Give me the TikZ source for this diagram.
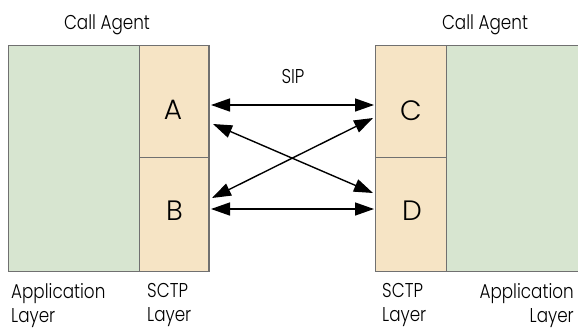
\documentclass[tikz,border=0pt]{standalone}
\usepackage{fontspec}
\setmainfont{Poppins Light}
\newfontfamily\narrowfont{Poppins Light}[FakeStretch=0.84]
\usetikzlibrary{arrows.meta}
\definecolor{appgreen}{HTML}{D7E5D0}
\definecolor{sctptan}{HTML}{F6E4C5}
\definecolor{edgegrey}{HTML}{707070}
\tikzset{
  layerbox/.style={draw=edgegrey, line width=0.9pt, inner sep=0pt, outer sep=0pt},
  applayer/.style={layerbox, fill=appgreen},
  sctplayer/.style={layerbox, fill=sctptan, minimum width=70pt},
  letter/.style={font=\fontsize{28}{28}\selectfont, inner sep=0pt, anchor=base},
  caption/.style={font=\narrowfont\fontsize{20}{24}\selectfont, inner sep=0pt, align=left},
  tip/.tip={Triangle[length=19pt,width=13pt]},
  msg/.style={line width=1.4pt, tip-tip},
}
\begin{document}
\begin{tikzpicture}[x=1pt, y=1pt]
\useasboundingbox (0,0) rectangle (578,-330);
% left call agent
\node[applayer, minimum width=131pt, minimum height=226pt] (appL) at (73.5,-158) {};
\node[sctplayer, minimum height=112pt] (boxA) at (174,-101) {};
\node[sctplayer, minimum height=114pt] (boxB) at (174,-214) {};
\draw[edgegrey, line width=2pt] (boxA.north east) -- (boxB.south east);
% right call agent
\node[applayer, minimum width=132pt, minimum height=226pt] (appR) at (512,-158) {};
\node[sctplayer, minimum width=71pt, minimum height=112pt] (boxC) at (410.5,-101) {};
\node[sctplayer, minimum width=71pt, minimum height=114pt] (boxD) at (410.5,-214) {};
% endpoint letters
\node[letter] (A) at (173,-119) {A};
\node[letter] (B) at (174.5,-220) {B};
\node[letter] (C) at (411,-120) {C};
\node[letter] (D) at (412,-220) {D};
% titles and captions
\node[caption, anchor=base] (titleL) at (107,-29) {Call Agent};
\node[caption, anchor=base] (titleR) at (485,-29) {Call Agent};
\node[caption, anchor=base] (sip) at (293,-83) {SIP};
\node[caption, anchor=north west] (appLcap) at (11,-283) {Application\\Layer};
\node[caption, anchor=north west] (sctpLcap) at (147,-283) {SCTP\\Layer};
\node[caption, anchor=north west] (sctpRcap) at (382,-283) {SCTP\\Layer};
\node[caption, anchor=north east, align=right] (appRcap) at (574,-283) {Application\\Layer};
% SIP associations
\draw[msg] ([shift={(2pt,-4pt)}]boxA.east) -- ([shift={(-1pt,-4pt)}]boxC.west);
\draw[msg] ([shift={(4pt,-23pt)}]boxA.east) -- ([shift={(-2pt,21pt)}]boxD.west);
\draw[msg] ([shift={(3pt,16pt)}]boxB.east) -- ([shift={(-2pt,-17pt)}]boxC.west);
\draw[msg] ([shift={(2pt,5pt)}]boxB.east) -- ([shift={(-1pt,5pt)}]boxD.west);
\end{tikzpicture}
\end{document}
